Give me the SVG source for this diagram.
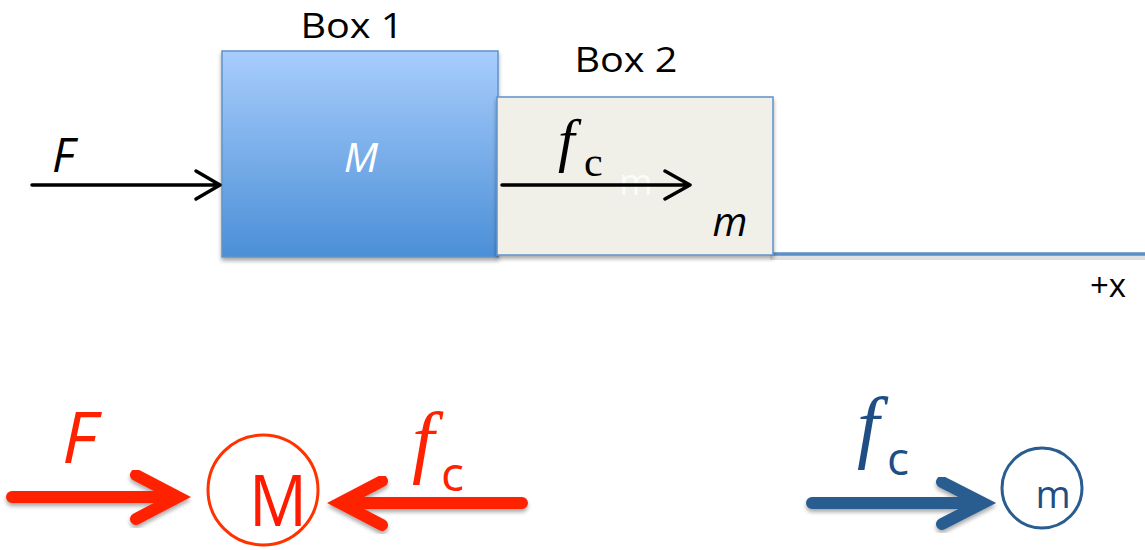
<svg xmlns="http://www.w3.org/2000/svg" width="1145" height="550" viewBox="0 0 1145 550">
<defs>
<linearGradient id="g1" x1="0" y1="0" x2="0" y2="1">
<stop offset="0" stop-color="#a8cdfc"/>
<stop offset="1" stop-color="#4b8fd7"/>
</linearGradient>
<filter id="sh" x="-10%" y="-10%" width="120%" height="130%">
<feGaussianBlur in="SourceAlpha" stdDeviation="2"/>
<feOffset dx="0" dy="3"/>
<feComponentTransfer><feFuncA type="linear" slope="0.35"/></feComponentTransfer>
<feMerge><feMergeNode/><feMergeNode in="SourceGraphic"/></feMerge>
</filter>
</defs>
<style>
.lbl{font-family:"Open Sans","Liberation Sans",sans-serif;fill:#000}
.it{font-style:italic}
.ser{font-family:"Liberation Serif",serif}
.blk{fill:none;stroke:#000;stroke-width:3.5;stroke-linecap:round;stroke-linejoin:round}
.red{fill:none;stroke:#ff2200;stroke-width:12;stroke-linecap:round;stroke-linejoin:miter}
.blu{fill:none;stroke:#2a5d8f;stroke-width:12;stroke-linecap:round;stroke-linejoin:miter}
</style>
<g id="ground">
<rect x="770" y="255" width="375" height="5" fill="#000" opacity="0.12"/>
<line x1="770" y1="254" x2="1145" y2="254" stroke="#5b8fc8" stroke-width="3.5"/>
</g>
<g id="box1">
<rect x="222" y="51" width="276" height="206" fill="url(#g1)" stroke="#5f93cb" stroke-width="1.5" filter="url(#sh)"/>
<text x="352" y="38" class="lbl" font-size="34" text-anchor="middle" textLength="103" lengthAdjust="spacingAndGlyphs">Box 1</text>
<text x="361" y="172" class="lbl it" font-size="41" style="fill:#fff" text-anchor="middle">M</text>
</g>
<g id="box2">
<rect x="497" y="97" width="276" height="158" fill="#f0efe8" stroke="#5f93cb" stroke-width="1.5" filter="url(#sh)"/>
<text x="626" y="72" class="lbl" font-size="35" text-anchor="middle" textLength="103" lengthAdjust="spacingAndGlyphs">Box 2</text>
<text x="636" y="195" class="lbl" font-size="36" style="fill:#fbfbf8" text-anchor="middle">m</text>
<text x="730" y="236" class="lbl it" font-size="40" text-anchor="middle">m</text>
</g>
<g id="connectors">
<path class="blk" d="M32 185 H220 M196 171 L220 185 L196 199"/>
<path class="blk" d="M502 185 H690 M665 171 L690 185 L665 199"/>
<path class="red" d="M12 497 H178 M136 475 L178 497 L136 519" filter="url(#sh)"/>
<path class="red" d="M522 503 H340 M382 481 L340 503 L382 525" filter="url(#sh)"/>
<path class="blu" d="M812 503 H983 M942 482 L983 503 L942 524" filter="url(#sh)"/>
</g>
<g id="labels">
<text x="52" y="172" class="lbl it" font-size="47">F</text>
<text x="558" y="160" class="ser it" font-size="60" fill="#000">f</text>
<text x="584" y="176" class="ser" font-size="42" fill="#000">c</text>
<text x="1108" y="297" class="lbl" font-size="33" text-anchor="middle">+x</text>
<text x="62" y="463" class="lbl it" font-size="72" style="fill:#ff2200">F</text>
<text x="412" y="468" class="ser it" font-size="80" fill="#ff2200">f</text>
<text x="441" y="491" font-family="Open Sans, Liberation Sans, sans-serif" font-size="48" fill="#ff2200">c</text>
<text x="857" y="453" class="ser it" font-size="80" fill="#1f4e84">f</text>
<text x="887" y="475" font-family="Open Sans, Liberation Sans, sans-serif" font-size="46" fill="#1f4e84">c</text>
</g>
<g id="nodeM">
<circle cx="263" cy="490" r="55" fill="none" stroke="#ff3300" stroke-width="3"/>
<text x="278" y="526" font-family="Open Sans, Liberation Sans, sans-serif" font-size="72" fill="#ff1a00" text-anchor="middle" textLength="58" lengthAdjust="spacingAndGlyphs">M</text>
</g>
<g id="nodem">
<circle cx="1042" cy="488" r="40" fill="none" stroke="#2a5d8f" stroke-width="3"/>
<text x="1053" y="508" font-family="Open Sans, Liberation Sans, sans-serif" font-size="38" fill="#1f4e84" text-anchor="middle">m</text>
</g>
</svg>
